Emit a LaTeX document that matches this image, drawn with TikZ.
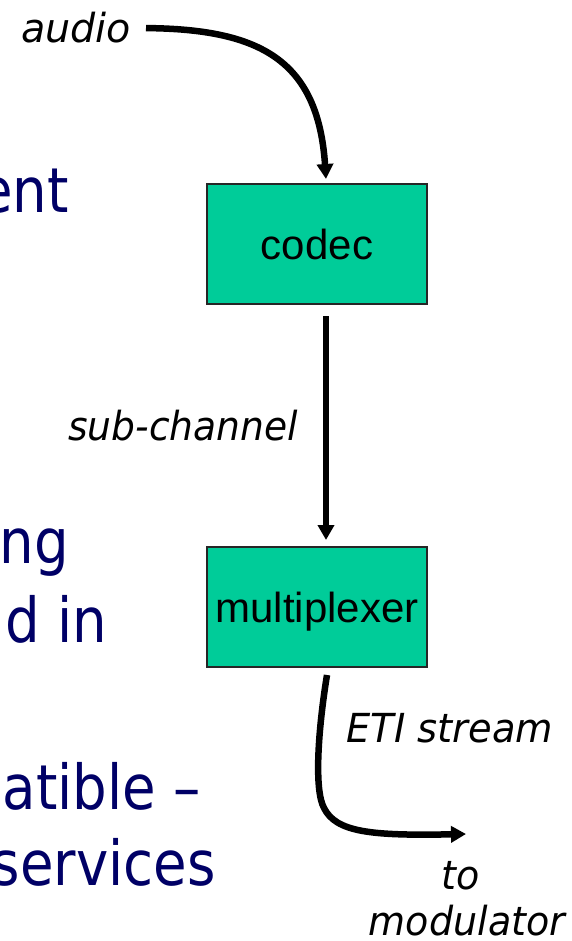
\documentclass[tikz,border=0pt]{standalone}
\usepackage{fontspec}
\setmainfont{DejaVu Sans}
\newfontfamily\boxfont{Liberation Sans}
\usetikzlibrary{arrows.meta}
\definecolor{slideblue}{HTML}{000066}
\definecolor{boxgreen}{HTML}{00CC99}
\newcommand{\narrow}[1]{\scalebox{0.88}[1]{#1}}
\newcommand{\squeeze}[2]{\scalebox{#1}[1]{#2}}
\tikzset{
  block/.style={draw=black!85, line width=2pt, fill=boxgreen,
    minimum width=220pt, minimum height=120pt, inner sep=0pt,
    font=\boxfont\fontsize{42}{50}\selectfont, text height=30pt, text depth=0pt},
  flow/.style={line width=6.5pt, -{Triangle[length=15pt,width=16pt]}},
  tag/.style={font=\fontsize{40}{48}\selectfont\itshape, inner sep=0pt},
  bullet/.style={font=\fontsize{62}{74}\selectfont, text=slideblue,
    inner sep=0pt, anchor=base east},
}
\begin{document}
\begin{tikzpicture}[x=1pt,y=-1pt]
\useasboundingbox (0,0) rectangle (572,941);
\clip (0,0) rectangle (572,941);
\fill[white] (0,0) rectangle (572,941);

% slide text running in from the left edge
\node[bullet] (b1) at (69,212) {\narrow{ent}};
\node[bullet] (b2) at (69,563) {\narrow{ng}};
\node[bullet] (b3) at (107,642) {\narrow{d in}};
\node[bullet] (b4) at (201,809) {\narrow{atible –}};
\node[bullet] (b5) at (216,885) {\narrow{services}};

% processing chain
\node[block] (codec) at (317,244) {codec};
\node[block] (mux) at (317,607) {multiplexer};

% labels
\node[tag, anchor=base east] (audio) at (131,43) {\squeeze{0.99}{audio}};
\node[tag, anchor=base] (sub) at (183,440) {\squeeze{0.94}{sub-channel}};
\node[tag, anchor=base] (eti) at (450,742) {\squeeze{0.96}{ETI stream}};
\node[tag, anchor=base] (to) at (461,889) {\squeeze{0.95}{to}};
\node[tag, anchor=base] (modl) at (467,935) {\squeeze{0.95}{modulator}};

\coordinate (out) at (466,834);

% connectors
\draw[flow] ([xshift=15pt]audio.east)
  .. controls (260,29) and (318,60) .. ([xshift=9pt,yshift=4pt]codec.north);
\draw[flow] ([xshift=9pt,yshift=-11pt]codec.south) -- ([xshift=9pt,yshift=6pt]mux.north);
\draw[flow] ([xshift=10pt,yshift=-7pt]mux.south)
  .. controls (318,730) and (314,790) .. (324,808)
  .. controls (336,832) and (370,836) .. (out);
\end{tikzpicture}
\end{document}
